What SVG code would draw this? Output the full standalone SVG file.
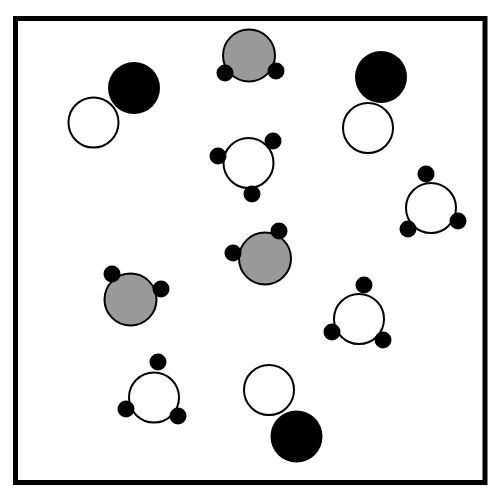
<svg xmlns="http://www.w3.org/2000/svg" width="500" height="500" viewBox="0 0 500 500">
<style>
.w{fill:#fff;stroke:#000;stroke-width:2}
.g{fill:#999;stroke:#000;stroke-width:2}
.b{fill:#000}
.d{fill:#000}
</style>
<rect x="0" y="0" width="500" height="500" fill="#fff"/>
<rect x="15.5" y="18.5" width="469.5" height="464" fill="none" stroke="#000" stroke-width="5"/>
<g id="pair1"><circle class="b" cx="134" cy="88" r="26"/><circle class="w" cx="93.5" cy="122.5" r="25"/></g>
<g id="pair2"><circle class="b" cx="381" cy="77" r="26"/><circle class="w" cx="368" cy="128" r="25"/></g>
<g id="pair3"><circle class="w" cx="269" cy="390" r="25"/><circle class="b" cx="296.5" cy="436.5" r="26"/></g>
<g id="gray1"><circle class="g" cx="249" cy="55.5" r="26"/><circle class="d" cx="225" cy="73" r="8.5"/><circle class="d" cx="276" cy="71" r="8.5"/></g>
<g id="gray2"><circle class="g" cx="265" cy="258.5" r="26"/><circle class="d" cx="233" cy="253" r="8.5"/><circle class="d" cx="279" cy="231" r="8.5"/></g>
<g id="gray3"><circle class="g" cx="130.5" cy="299.5" r="26"/><circle class="d" cx="112" cy="274" r="8.5"/><circle class="d" cx="161" cy="289" r="8.5"/></g>
<g id="ring1"><circle class="w" cx="248.5" cy="163" r="25"/><circle class="d" cx="218" cy="156" r="8.5"/><circle class="d" cx="273" cy="141" r="8.5"/><circle class="d" cx="252" cy="194" r="8.5"/></g>
<g id="ring2"><circle class="w" cx="431" cy="208" r="25"/><circle class="d" cx="426" cy="174" r="8.5"/><circle class="d" cx="458" cy="221" r="8.5"/><circle class="d" cx="408" cy="229" r="8.5"/></g>
<g id="ring3"><circle class="w" cx="359" cy="319" r="25"/><circle class="d" cx="364" cy="285" r="8.5"/><circle class="d" cx="332" cy="332" r="8.5"/><circle class="d" cx="383" cy="340" r="8.5"/></g>
<g id="ring4"><circle class="w" cx="154" cy="397.5" r="25"/><circle class="d" cx="158" cy="362" r="8.5"/><circle class="d" cx="126" cy="409" r="8.5"/><circle class="d" cx="178" cy="416" r="8.5"/></g>
</svg>
